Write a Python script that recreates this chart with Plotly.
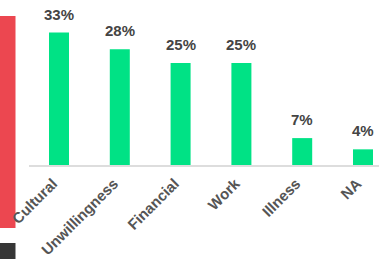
import plotly.graph_objects as go

categories = ["Cultural", "Unwillingness", "Financial", "Work", "Illness", "NA"]
values = [33.0, 28.8, 25.4, 25.4, 6.7, 3.9]
labels = ["33%", "28%", "25%", "25%", "7%", "4%"]

W, H = 379, 259
ML, MR, MT, MB = 29, 0, 10, 94
plot_w = W - ML - MR
plot_h = H - MT - MB
px_per_cat = 60.8
x0 = -(59 - ML) / px_per_cat
x1 = x0 + plot_w / px_per_cat
ymax = plot_h / 4.015

fig = go.Figure()
fig.add_trace(go.Bar(
    x=categories, y=values,
    marker=dict(color="#00E285", line=dict(width=0)),
    hoverinfo="skip",
))

for c, v, t in zip(categories, values, labels):
    fig.add_annotation(x=c, y=v, text=t, showarrow=False, yanchor="bottom",
                       yshift=8, font=dict(family="Liberation Sans, Arial", size=15,
                                           color="#444444", weight="bold"))

def px_x(p):
    return (p - ML) / plot_w

def px_y(p):
    return (H - MB - p) / plot_h

fig.add_shape(type="rect", xref="paper", yref="paper",
              x0=px_x(0), x1=px_x(15.5), y0=px_y(228), y1=px_y(16),
              fillcolor="#EC4750", line=dict(width=0), layer="below")
fig.add_shape(type="rect", xref="paper", yref="paper",
              x0=px_x(0), x1=px_x(15.5), y0=px_y(260), y1=px_y(243),
              fillcolor="#363636", line=dict(width=0), layer="below")

fig.update_layout(
    width=W, height=H,
    margin=dict(l=ML, r=MR, t=MT, b=MB, autoexpand=False),
    paper_bgcolor="white", plot_bgcolor="rgba(0,0,0,0)",
    bargap=0.671, showlegend=False,
    xaxis=dict(range=[x0, x1], showgrid=False, zeroline=False, showline=True,
               linecolor="#DDDDDD", linewidth=2, ticks="", tickangle=-45,
               ticklabelshift=-6, ticklabelstandoff=2,
               tickfont=dict(family="Liberation Sans, Arial", size=15,
                             color="#555555", weight="bold")),
    yaxis=dict(range=[0, ymax], visible=False, showgrid=False, zeroline=False),
)

fig.write_html(
    "out.html",
    config={"displayModeBar": False},
    post_script="document.body.style.margin='0';document.body.style.overflow='hidden';",
)
